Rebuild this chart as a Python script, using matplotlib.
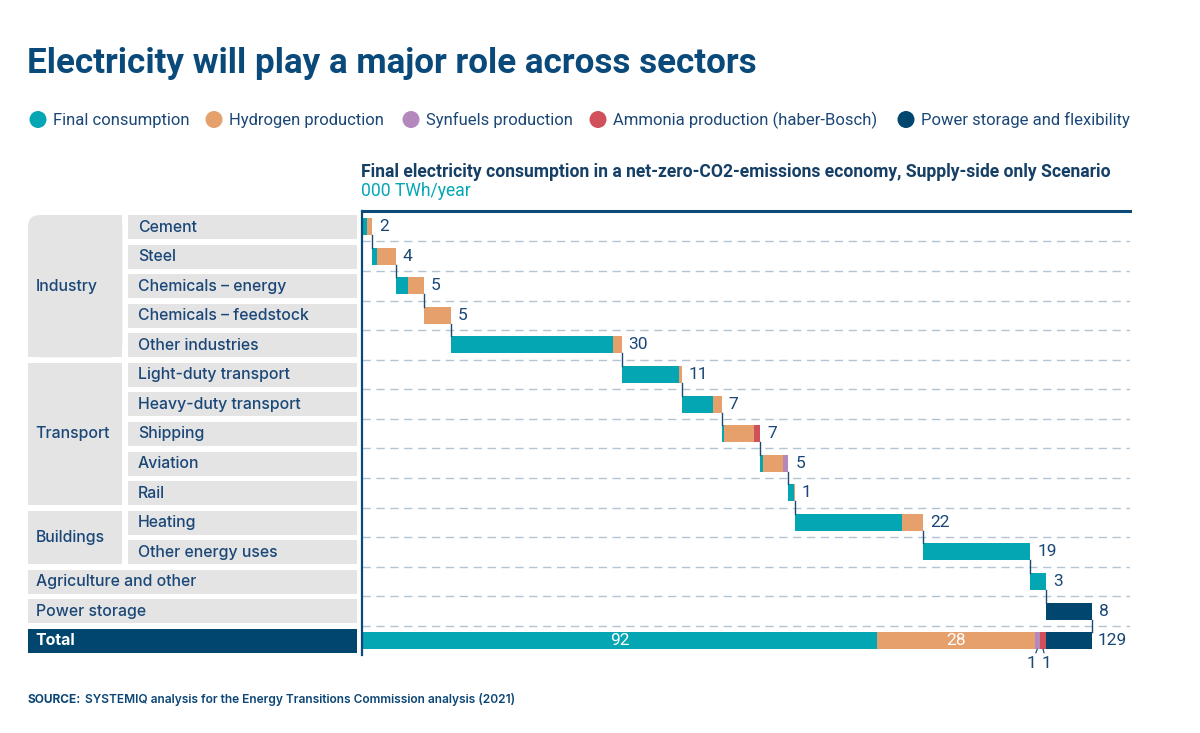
import matplotlib
matplotlib.use("Agg")
import matplotlib.pyplot as plt
from matplotlib.patches import Rectangle, FancyBboxPatch, Circle
import numpy as np

# ---------------- data ----------------
rows = ["Cement", "Steel", "Chemicals – energy", "Chemicals – feedstock", "Other industries",
        "Light-duty transport", "Heavy-duty transport", "Shipping", "Aviation", "Rail",
        "Heating", "Other energy uses", "Agriculture and other", "Power storage"]
groups = [("Industry", 0, 4), ("Transport", 5, 9), ("Buildings", 10, 11)]
series_names = ["Final consumption", "Hydrogen production", "Synfuels production",
                "Ammonia production (haber-Bosch)", "Power storage and flexibility"]
final_cons = [0.8, 0.9, 2.2, 0.0, 28.6, 10.1, 5.5, 0.45, 0.5, 1.0, 18.9, 18.9, 2.8, 0.0]
hydrogen   = [1.0, 3.2, 2.8, 4.7, 1.5, 0.5, 1.5, 5.2, 3.5, 0.2, 3.6, 0.0, 0.0, 0.0]
synfuels   = [0.0, 0.0, 0.0, 0.0, 0.0, 0.0, 0.0, 0.0, 0.95, 0.0, 0.0, 0.0, 0.0, 0.0]
ammonia    = [0.0, 0.0, 0.0, 0.0, 0.0, 0.0, 0.0, 1.1, 0.0, 0.0, 0.0, 0.0, 0.0, 0.0]
storage    = [0.0, 0.0, 0.0, 0.0, 0.0, 0.0, 0.0, 0.0, 0.0, 0.0, 0.0, 0.0, 0.0, 8.0]
row_labels = ["2", "4", "5", "5", "30", "11", "7", "7", "5", "1", "22", "19", "3", "8"]
total_label = "129"
total_seg_labels = ["92", "28", "1", "1", ""]

colors = ["#05a6b4", "#e6a06b", "#b488bd", "#d0505b", "#00466f"]
NAVY = "#0b4676"
TEXTC = "#1a4777"
GREY = "#e4e4e4"

W, H = 1200, 733
fig = plt.figure(figsize=(W / 100, H / 100), dpi=100)
fig.patch.set_facecolor("white")

bg = fig.add_axes([0, 0, 1, 1], zorder=0)
bg.set_xlim(0, W)
bg.set_ylim(H, 0)
bg.axis("off")

TF = "Roboto"
LF = "Inter"

bg.text(27, 64, "Electricity will play a major role across sectors", fontsize=25.2,
        fontweight="bold", color="#0a4a7a", family=TF, va="center", ha="left")

leg_x = [38, 214, 411, 598, 906]
for cx, name, c in zip(leg_x, series_names, colors):
    bg.add_patch(Circle((cx, 119.5), 8.5, color=c, lw=0))
    bg.text(cx + 15, 120, name, fontsize=12.0, color=TEXTC, family=TF, va="center", ha="left")

bg.text(361, 172, "Final electricity consumption in a net-zero-CO2-emissions economy, Supply-side only Scenario",
        fontsize=12.65, fontweight="bold", color="#163f66", family=TF, va="center", ha="left")
bg.text(361, 191, "000 TWh/year", fontsize=12.65, color="#05a6b4", family=TF, va="center", ha="left")

src1 = bg.text(28, 700, "SOURCE:", fontsize=8.6, fontweight="bold", color=NAVY, family=LF,
               va="center", ha="left")
fig.canvas.draw()
bb = src1.get_window_extent()
x_after = bg.transData.inverted().transform((bb.x1, 0))[0] + 4
bg.text(x_after, 700, "SYSTEMIQ analysis for the Energy Transitions Commission analysis (2021)",
        fontsize=8.6, fontweight="semibold", color=NAVY, family=LF, va="center", ha="left")

# left label panels
pitch = 29.57
top0 = 215.0
bh = 24.0
n = len(rows)
LFS = 11.4
grouped = set()
for gname, a, b in groups:
    y0 = top0 + a * pitch
    y1 = top0 + b * pitch + bh
    if gname == "Industry":
        bg.add_patch(FancyBboxPatch((28, y0), 94.3, y1 - y0,
                                    boxstyle="round,pad=0,rounding_size=12", fc=GREY, ec="none"))
        bg.add_patch(Rectangle((48, y0), 74.3, y1 - y0, fc=GREY, ec="none"))
        bg.add_patch(Rectangle((28, y0 + 20), 94.3, y1 - y0 - 20, fc=GREY, ec="none"))
    else:
        bg.add_patch(Rectangle((28, y0), 94.3, y1 - y0, fc=GREY, ec="none"))
    bg.text(35.5, (y0 + y1) / 2, gname, fontsize=LFS, color=TEXTC, family=LF,
            fontweight="medium", va="center", ha="left")
    for i in range(a, b + 1):
        grouped.add(i)

for i, r in enumerate(rows):
    y0 = top0 + i * pitch
    if i in grouped:
        bg.add_patch(Rectangle((127.7, y0), 229.3, bh, fc=GREY, ec="none"))
        bg.text(138, y0 + bh / 2, r, fontsize=LFS, color=TEXTC, family=LF,
                fontweight="medium", va="center", ha="left")
    else:
        bg.add_patch(Rectangle((28, y0), 329, bh, fc=GREY, ec="none"))
        bg.text(35.5, y0 + bh / 2, r, fontsize=LFS, color=TEXTC, family=LF,
                fontweight="medium", va="center", ha="left")
y0 = top0 + n * pitch
bg.add_patch(Rectangle((28, y0), 329, bh, fc="#00466f", ec="none"))
bg.text(35.5, y0 + bh / 2, "Total", fontsize=LFS, color="white", family=LF,
        fontweight="bold", va="center", ha="left")

# ---------------- main waterfall axes ----------------
series = [final_cons, hydrogen, synfuels, ammonia, storage]
grand_total = float(np.sum(np.array(series)))
series_totals = [sum(s) for s in series]

px_left, px_right, px_top, px_bottom = 362, 1130, 211, 655
px_total_end = 1091.7
ppu = (px_total_end - px_left) / grand_total
xmax = (px_right - px_left) / ppu
row0_center = 226.7
ytop = (px_top - row0_center) / pitch
ybot = (px_bottom - row0_center) / pitch

ax = fig.add_axes([px_left / W, 1 - px_bottom / H, (px_right - px_left) / W, (px_bottom - px_top) / H],
                  zorder=1)
ax.patch.set_alpha(0)
ax.set_xlim(0, xmax)
ax.set_ylim(ybot, ytop)
for s in ["right", "bottom"]:
    ax.spines[s].set_visible(False)
ax.spines["top"].set_color("#0d4a78")
ax.spines["top"].set_linewidth(2.2)
ax.spines["left"].set_color("#0d4a78")
ax.spines["left"].set_linewidth(1.6)
ax.set_xticks([])
ax.set_yticks([])

for k in range(n):
    ax.axhline(k + 0.5, color="#b3c5d4", lw=1.0, ls=(0, (6, 4)), zorder=0)

VFS = 12.5
bar_h = 0.575
cum = 0.0
ends = []
for i in range(n):
    left = cum
    for s, c in zip(series, colors):
        v = s[i]
        if v > 0:
            ax.barh(i, v, left=left, height=bar_h, color=c, edgecolor="none", zorder=2)
            left += v
    ends.append(left)
    ax.text(left + 7 / ppu, i, row_labels[i], fontsize=VFS, color=TEXTC, family=TF,
            va="center", ha="left", zorder=3)
    cum = left

for i in range(n):
    ax.plot([ends[i], ends[i]], [i + bar_h / 2, i + 1 - bar_h / 2], color="#1b4a74", lw=1.0, zorder=3)

ti = n
left = 0.0
centers = []
for s_tot, c in zip(series_totals, colors):
    ax.barh(ti, s_tot, left=left, height=bar_h, color=c, edgecolor="none", zorder=2)
    centers.append(left + s_tot / 2)
    left += s_tot
for k in (0, 1):
    ax.text(centers[k], ti, total_seg_labels[k], color="white", fontsize=VFS, family=TF,
            va="center", ha="center", zorder=3)
for k, dx in ((2, -5.5), (3, 3.5)):
    ax.annotate(total_seg_labels[k], xy=(centers[k], ti + bar_h / 2),
                xytext=(centers[k] + dx / ppu, ti + 0.76), textcoords="data",
                fontsize=VFS, color=TEXTC, family=TF, ha="center", va="center",
                arrowprops=dict(arrowstyle="-", color="#1b4a74", lw=0.9, shrinkA=7, shrinkB=0),
                annotation_clip=False, zorder=3)
ax.text(left + 6 / ppu, ti, total_label, fontsize=VFS, color=TEXTC, family=TF,
        va="center", ha="left", zorder=3)

fig.savefig("out.png", dpi=100, facecolor="white")
